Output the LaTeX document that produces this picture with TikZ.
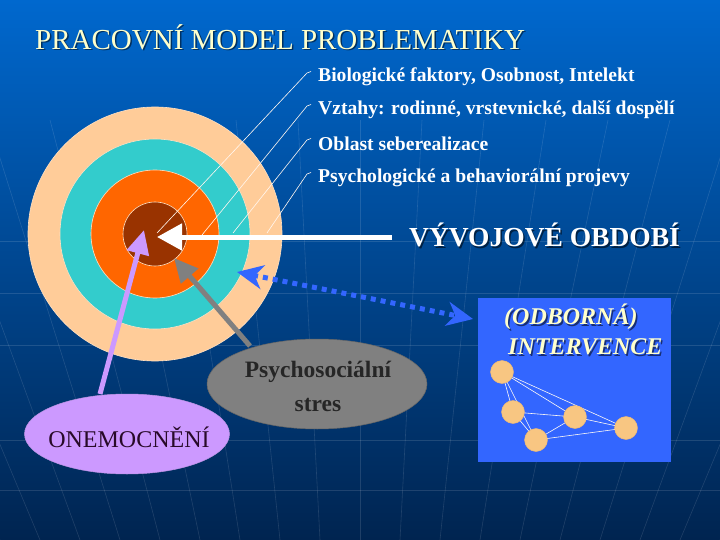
\documentclass[tikz,border=0pt]{standalone}
\usepackage{fontspec}
\setmainfont{Liberation Serif}
\usetikzlibrary{arrows.meta,shapes.geometric}
\definecolor{bgtop}{RGB}{0,104,206}
\definecolor{bgmid}{RGB}{0,78,158}
\definecolor{bgbot}{RGB}{0,36,80}
\definecolor{peach}{RGB}{255,204,153}
\definecolor{teal}{RGB}{51,204,204}
\definecolor{orng}{RGB}{255,102,0}
\definecolor{brwn}{RGB}{153,51,0}
\definecolor{lav}{RGB}{204,153,255}
\definecolor{grayell}{RGB}{128,128,128}
\definecolor{boxblue}{RGB}{51,102,255}
\definecolor{titlecol}{RGB}{255,255,204}
\definecolor{dot}{RGB}{248,198,130}
\definecolor{darktext}{RGB}{40,10,40}
\tikzset{
  gridline/.style={draw=white, opacity=0.12, line width=0.6pt},
  ring/.style={circle, draw=peach!60!white, line width=0.6pt, inner sep=0pt},
  leader/.style={draw=white!85!peach, line width=0.6pt},
  labeltext/.style={font=\fontsize{19.6}{21}\selectfont\bfseries, text=white, anchor=west, inner sep=0pt},
  bigarrow/.style={line width=5pt, -{Triangle[length=25pt,width=26pt]}},
  netdot/.style={circle, fill=dot, draw=dot!80!brown, line width=0.4pt, minimum size=23pt, inner sep=0pt},
  netline/.style={draw=white!90!peach, line width=0.6pt},
  intfont/.style={font=\fontsize{24}{26}\selectfont\itshape\bfseries, anchor=west, inner sep=0pt},
}
\begin{document}
\begin{tikzpicture}[x=1pt,y=-1pt]
\shade[top color=bgtop, middle color=bgmid, bottom color=bgbot] (0,0) rectangle (720,540);
\useasboundingbox (0,0) rectangle (720,540);
% faint perspective grid
\foreach \i in {-12,...,12}{
  \draw[gridline] ({360+\i*40*1.55}, 120) -- ({360+\i*40}, 540);
}
\foreach \yy in {241,293,345,440,490}{
  \draw[gridline] (0,\yy) -- (720,\yy);
}
% title
\node[font=\fontsize{29}{32}\selectfont, text=black, opacity=0.5, anchor=west, inner sep=0pt] (titleS) at (36.5,38.5) {PRACOVNÍ MODEL PROBLEMATIKY};
\node[font=\fontsize{29}{32}\selectfont, text=titlecol, anchor=west, inner sep=0pt] (title) at (35,37) {PRACOVNÍ MODEL PROBLEMATIKY};
% target rings
\node[ring, fill=peach, minimum size=254pt] (r4) at (155,234) {};
\node[ring, fill=teal, minimum size=190pt] (r3) at (155,234) {};
\node[ring, fill=orng, minimum size=128pt] (r2) at (155,234) {};
\node[ring, fill=brwn, minimum size=64pt] (r1) at (155,234) {};
% leader lines
\coordinate (s1) at (157,233); \coordinate (e1) at (307,73);
\coordinate (s2) at (202,235); \coordinate (e2) at (307,106);
\coordinate (s3) at (233,233); \coordinate (e3) at (307,140);
\coordinate (s4) at (267,233); \coordinate (e4) at (307,174);
\foreach \k in {1,2,3,4}{
  \draw[leader] (s\k) -- (e\k) -- ++(4,-1.5);
}
% labels
\node[labeltext] (l1) at (318,77) {Biologické faktory, Osobnost, Intelekt};
\node[labeltext] (l2) at (318,110) {Vztahy: rodinné, vrstevnické, další dospělí};
\node[labeltext] (l3) at (318,144) {Oblast seberealizace};
\node[labeltext] (l4) at (318,178) {Psychologické a behaviorální projevy};
% developmental period
\node[font=\fontsize{27.5}{30}\selectfont\bfseries, text=black, opacity=0.55, anchor=west, inner sep=0pt] (vyvS) at (410.5,236.5) {VÝVOJOVÉ OBDOBÍ};
\node[font=\fontsize{27.5}{30}\selectfont\bfseries, text=white, anchor=west, inner sep=0pt] (vyv) at (409,235) {VÝVOJOVÉ OBDOBÍ};
\coordinate (wstart) at (392,237);
\coordinate (wtip) at (157,237);
\draw[bigarrow, white] (wstart) -- (wtip);
% ellipses
\node[ellipse, fill=lav, draw=lav!80!gray, line width=0.5pt, minimum width=205pt, minimum height=80pt, inner sep=0pt] (onem) at (127,434) {};
\node[font=\fontsize{24}{26}\selectfont, text=darktext] (onemT) at (129,437) {ONEMOCNĚNÍ};
\node[ellipse, fill=grayell, draw=grayell!80!black, line width=0.5pt, minimum width=220pt, minimum height=90pt, inner sep=0pt] (psy) at (317,384) {};
\node[font=\fontsize{23.5}{26}\selectfont\bfseries, text=black!85, align=center] (psyT) at (318,386) {Psychosociální\\[8pt]stres};
% arrows into target
\coordinate (ptip) at (144,230);
\coordinate (pstart) at (100,394);
\draw[line width=5pt, lav, -{Triangle[length=24pt,width=22pt]}] (pstart) -- (ptip);
\coordinate (gtip) at (174,258);
\coordinate (gstart) at (250,346);
\draw[line width=5pt, grayell, -{Triangle[length=24pt,width=22pt]}] (gstart) -- (gtip);
% intervention box
\node[fill=boxblue, minimum width=193pt, minimum height=164pt, anchor=north west, inner sep=0pt] (box) at (478,298) {};
\node[intfont, text=black, opacity=0.55] (odbS) at (505.5,318.5) {(ODBORNÁ)};
\node[intfont, text=titlecol] (odb) at (504,317) {(ODBORNÁ)};
\node[intfont, text=black, opacity=0.55] (intS) at (509.5,348.5) {INTERVENCE};
\node[intfont, text=titlecol] (int) at (508,347) {INTERVENCE};
% dotted double arrow
\coordinate (dA) at (237,272);
\coordinate (dB) at (473,319);
\draw[boxblue, line width=5pt, dash pattern=on 5pt off 5pt, {Stealth[length=26pt,width=24pt,inset=8pt]}-{Stealth[length=26pt,width=24pt,inset=8pt]}] (dA) -- (dB);
% network
\coordinate (n1) at (502,372);
\coordinate (n2) at (513,412);
\coordinate (n3) at (536,440);
\coordinate (n4) at (575,417);
\coordinate (n5) at (626,428);
\draw[netline] (n1) -- (n2) (n1) -- (n3) (n1) -- (n4) (n1) -- (n5)
  (n2) -- (n3) (n2) -- (n4) (n3) -- (n4) (n3) -- (n5) (n4) -- (n5);
\foreach \k in {1,...,5}{
  \node[netdot] (d\k) at (n\k) {};
}
\end{tikzpicture}
\end{document}
